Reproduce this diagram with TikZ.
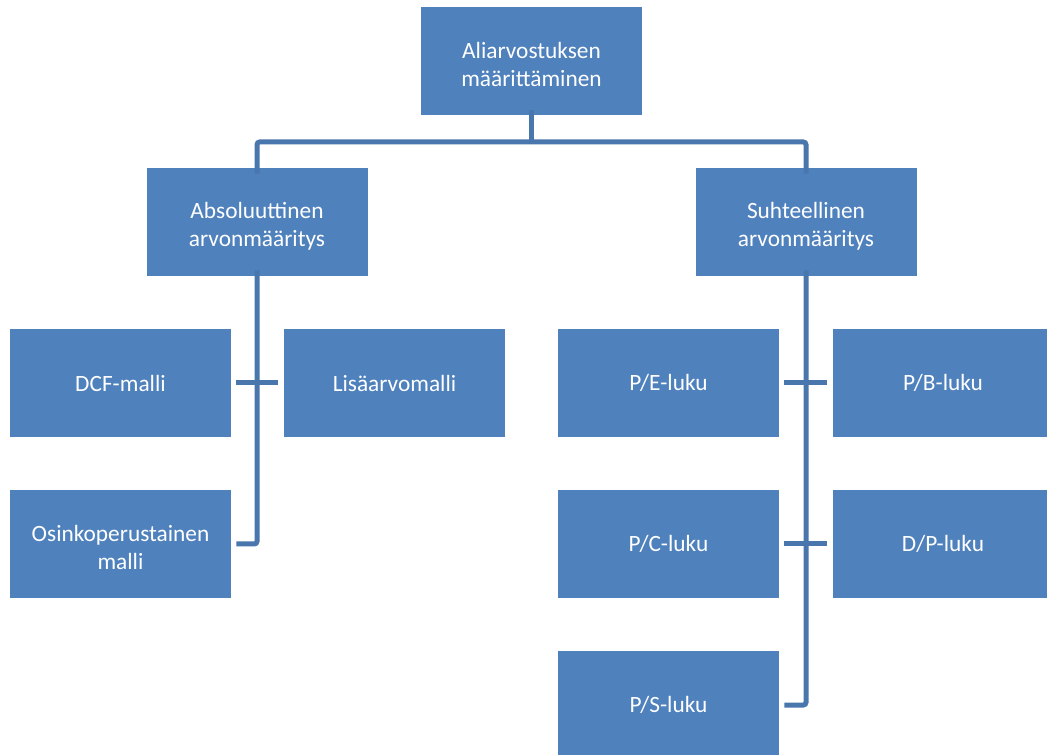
\documentclass[tikz,border=0pt]{standalone}
\usepackage{fontspec}
\setmainfont{Carlito}
\usepackage{tikz}
\usetikzlibrary{calc}
\definecolor{boxblue}{HTML}{4F81BD}
\definecolor{lineblue}{HTML}{4A76AE}
\newcommand{\topstrut}{\rule{0pt}{18pt}}
\tikzset{
  blok/.style={fill=boxblue, text=white, inner sep=0pt, align=center,
    minimum width=165.75pt, minimum height=81pt,
    font=\fontsize{17.5}{21}\selectfont},
  link/.style={draw=lineblue, line width=3.75pt, rounded corners=2pt}
}
\begin{document}
\begin{tikzpicture}[x=0.75pt,y=0.75pt,yscale=-1,xscale=1]
%set diagram left start at 0, and has height of 755
\useasboundingbox (0,0) rectangle (1047,755);

%Shape: Rectangle [top]
\node[blok] (top) at (531.5,61) {\topstrut Aliarvostuksen\\määrittäminen};
%Shape: Rectangle [second level]
\node[blok] (abs) at (257,222) {\topstrut Absoluuttinen\\arvonmääritys};
\node[blok] (suht) at (806,222) {\topstrut Suhteellinen\\arvonmääritys};
%Shape: Rectangle [absolute models]
\node[blok] (dcf) at (120.5,383) {DCF-malli};
\node[blok] (lisa) at (394.5,383) {Lisäarvomalli};
\node[blok] (osinko) at (120.5,544) {\topstrut Osinkoperustainen\\malli};
%Shape: Rectangle [relative ratios]
\node[blok] (pe) at (668.5,383) {P/E-luku};
\node[blok] (pb) at (943,383) {P/B-luku};
\node[blok] (pc) at (668.5,544) {P/C-luku};
\node[blok] (dp) at (943,544) {D/P-luku};
\node[blok] (ps) at (668.5,705) {P/S-luku};

%Straight Lines [connectors]
\coordinate (bus) at (531.5,142);
\draw[link] ([yshift=-3.75pt]top.south) -- (bus);
\draw[link] ([yshift=4.5pt]abs.north) |- (bus) -| ([yshift=4.5pt]suht.north);
\draw[link] ([yshift=-4.5pt]abs.south) |- ([xshift=3.75pt]osinko.east);
\draw[link] ([xshift=3.75pt]dcf.east) -- ([xshift=-4pt]lisa.west);
\draw[link] ([yshift=-4.5pt]suht.south) |- ([xshift=3.75pt]ps.east);
\draw[link] ([xshift=3.75pt]pe.east) -- ([xshift=-4pt]pb.west);
\draw[link] ([xshift=3.75pt]pc.east) -- ([xshift=-4pt]dp.west);
\end{tikzpicture}
\end{document}
